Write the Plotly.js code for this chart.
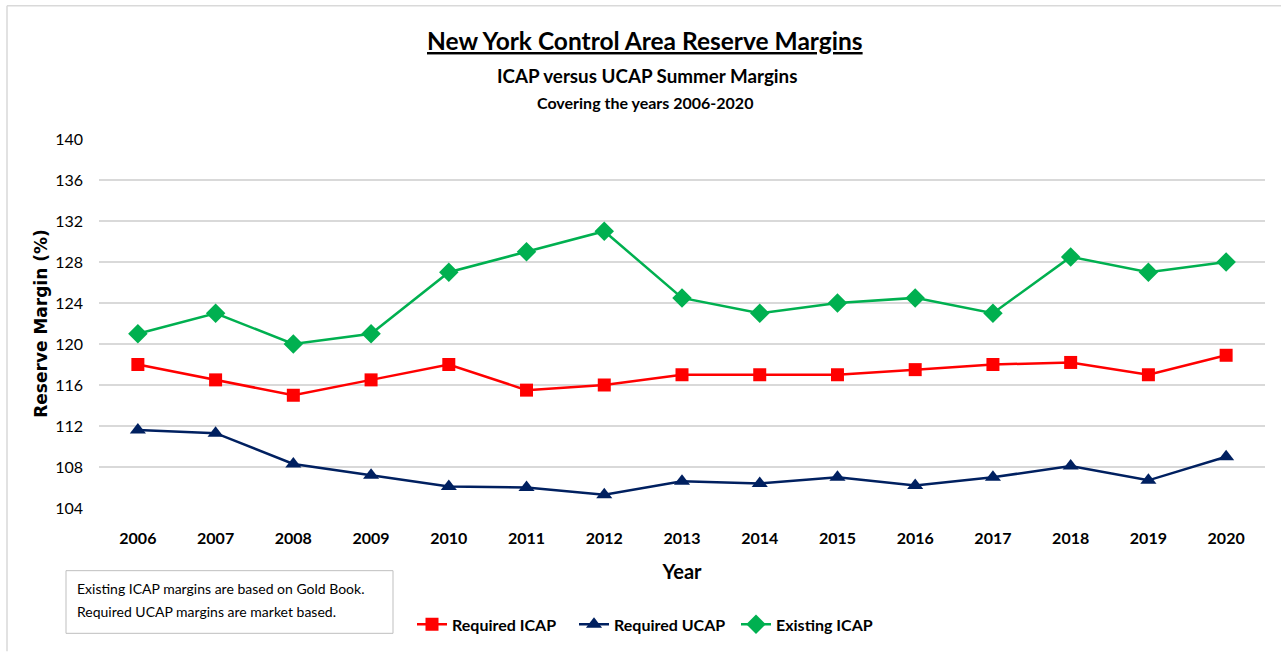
<!DOCTYPE html>
<html>
<head>
<meta charset="utf-8">
<script src="https://cdn.plot.ly/plotly-3.0.1.min.js"></script>
<style>
  html, body { margin: 0; padding: 0; background: #ffffff; }
  #chart { width: 1281px; height: 654px; }
</style>
</head>
<body>
<div id="chart"></div>
<script>
const years = ['2006','2007','2008','2009','2010','2011','2012','2013','2014','2015','2016','2017','2018','2019','2020'];
const requiredICAP = [118, 116.5, 115, 116.5, 118, 115.5, 116, 117, 117, 117, 117.5, 118, 118.2, 117, 118.9];
const requiredUCAP = [111.6, 111.3, 108.3, 107.2, 106.1, 106.0, 105.3, 106.6, 106.4, 107.0, 106.2, 107.0, 108.1, 106.7, 109.0];
const existingICAP = [121, 123, 120, 121, 127, 129, 131, 124.5, 123, 124, 124.5, 123, 128.5, 127, 128];
const yTicks = [104, 108, 112, 116, 120, 124, 128, 132, 136, 140];

const FONT = 'Lato, "Open Sans", "Liberation Sans", sans-serif';

// plot area in pixels
const L = 99, R = 16, T = 139, B = 144, W = 1281, H = 654;
const pw = W - L - R, ph = H - T - B;
const px = x => (x - L) / pw;
const py = y => (H - B - y) / ph;

const traces = [
  { name: 'Required ICAP', x: years, y: requiredICAP, type: 'scatter', mode: 'lines+markers',
    line: { color: '#FF0000', width: 2.5 },
    marker: { symbol: 'square', size: 13, color: '#FF0000' } },
  { name: 'Required UCAP', x: years, y: requiredUCAP, type: 'scatter', mode: 'lines+markers',
    line: { color: '#002060', width: 2.5 },
    marker: { symbol: 'triangle-up', size: 14, color: '#002060' } },
  { name: 'Existing ICAP', x: years, y: existingICAP, type: 'scatter', mode: 'lines+markers',
    line: { color: '#00B050', width: 2.5 },
    marker: { symbol: 'diamond', size: 15, color: '#00B050' } }
];

const layout = {
  width: W, height: H,
  margin: { l: L, r: R, t: T, b: B },
  paper_bgcolor: '#ffffff', plot_bgcolor: '#ffffff',
  font: { family: FONT, color: '#000000' },
  showlegend: true,
  legend: {
    orientation: 'h', x: px(412), xanchor: 'left', y: py(627), yanchor: 'middle',
    font: { family: FONT, size: 16, color: '#000000', weight: 'bold' },
    entrywidth: 117, entrywidthmode: 'pixels', itemwidth: 30,
    bgcolor: 'rgba(0,0,0,0)', traceorder: 'normal'
  },
  xaxis: {
    type: 'category', range: [-0.5, 14.5], fixedrange: true,
    showgrid: false, zeroline: false, showline: false, ticks: '',
    tickfont: { family: FONT, size: 16, color: '#000000', weight: 'bold' },
    ticklabelstandoff: 19,
    title: { text: '<b>Year</b>', font: { family: FONT, size: 20, color: '#000000' }, standoff: 18 }
  },
  yaxis: {
    range: [104, 140], tickvals: yTicks, ticktext: yTicks.map(String), fixedrange: true,
    showgrid: true, gridcolor: '#D9D9D9', gridwidth: 1.5, zeroline: false, showline: false, ticks: '',
    tickfont: { family: FONT, size: 16, color: '#000000' },
    ticklabelstandoff: 15,
    title: { text: '<b>Reserve Margin (%)</b>', font: { family: '"DejaVu Sans", Verdana, sans-serif', size: 17, color: '#000000' }, standoff: 3 }
  },
  annotations: [
    { text: '<b><u>New York Control Area Reserve Margins</u></b>', xref: 'paper', yref: 'paper',
      x: px(645), y: py(40), xanchor: 'center', yanchor: 'middle', showarrow: false,
      font: { family: FONT, size: 24.5, color: '#000000' } },
    { text: '<b>ICAP versus UCAP Summer Margins</b>', xref: 'paper', yref: 'paper',
      x: px(647), y: py(75), xanchor: 'center', yanchor: 'middle', showarrow: false,
      font: { family: FONT, size: 18.8, color: '#000000' } },
    { text: '<b>Covering the years 2006-2020</b>', xref: 'paper', yref: 'paper',
      x: px(645), y: py(102), xanchor: 'center', yanchor: 'middle', showarrow: false,
      font: { family: FONT, size: 16, color: '#000000' } },
    { text: 'Existing ICAP margins are based on Gold Book.', xref: 'paper', yref: 'paper',
      x: px(75), y: py(591), xanchor: 'left', yanchor: 'middle', showarrow: false,
      font: { family: FONT, size: 14, color: '#000000' } },
    { text: 'Required UCAP margins are market based.', xref: 'paper', yref: 'paper',
      x: px(75), y: py(614), xanchor: 'left', yanchor: 'middle', showarrow: false,
      font: { family: FONT, size: 14, color: '#000000' } }
  ],
  shapes: [
    { type: 'rect', xref: 'paper', yref: 'paper', x0: px(66), x1: px(393), y0: py(636), y1: py(573),
      line: { color: '#BFBFBF', width: 1 }, fillcolor: 'rgba(0,0,0,0)', layer: 'below' },
    { type: 'line', xref: 'paper', yref: 'paper', x0: px(7), x1: px(1281), y0: py(5), y1: py(5),
      line: { color: '#D9D9D9', width: 1.5 } },
    { type: 'line', xref: 'paper', yref: 'paper', x0: px(7), x1: px(7), y0: py(5), y1: py(654),
      line: { color: '#D9D9D9', width: 1.5 } }
  ]
};

Plotly.newPlot('chart', traces, layout, { displayModeBar: false, staticPlot: true });
</script>
</body>
</html>
